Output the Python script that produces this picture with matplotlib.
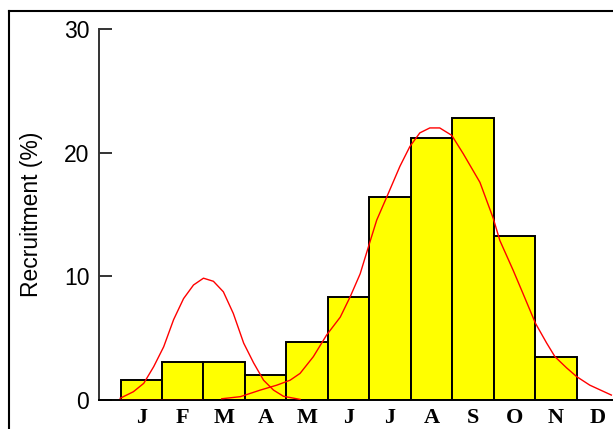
import numpy as np
import matplotlib.pyplot as plt
from matplotlib.lines import Line2D

# Monthly recruitment (%)
months = ['J', 'F', 'M', 'A', 'M', 'J', 'J', 'A', 'S', 'O', 'N', 'D']
recruit = [1.6, 3.1, 3.1, 2.0, 4.7, 8.3, 16.4, 21.2, 22.8, 13.3, 3.5, 0.0]

# Fitted normal components (x in month units, 0 = January)
fit1_x = [-0.51, -0.19, 0.06, 0.30, 0.54, 0.78, 1.02, 1.26, 1.50, 1.74,
          1.98, 2.22, 2.47, 2.71, 2.95, 3.19, 3.43, 3.83]
fit1_y = [0.14, 0.67, 1.35, 2.7, 4.3, 6.5, 8.2, 9.3, 9.85, 9.6,
          8.75, 7.0, 4.6, 3.0, 1.6, 0.8, 0.3, 0.05]

fit2_x = [1.94, 2.39, 2.87, 3.27, 3.59, 3.83, 4.15, 4.47, 4.80, 5.04,
          5.28, 5.49, 5.68, 5.92, 6.24, 6.48, 6.72, 6.96, 7.20, 7.49,
          7.77, 8.17, 8.49, 8.65, 8.97, 9.21, 9.51, 9.78, 9.98, 10.26,
          10.50, 10.82, 11.34]
fit2_y = [0.1, 0.27, 0.8, 1.2, 1.6, 2.15, 3.5, 5.25, 6.7, 8.35,
          10.2, 12.5, 14.55, 16.4, 18.9, 20.5, 21.6, 22.0, 22.0, 21.4,
          19.9, 17.6, 14.7, 12.9, 10.5, 8.6, 6.2, 4.6, 3.5, 2.6,
          1.9, 1.2, 0.4]

fig = plt.figure(figsize=(6.13, 4.29), dpi=100)
ax = fig.add_axes([99/613, 29/429, 1 - 99/613, 371/429])

x = np.arange(len(months))
ax.bar(x, recruit, width=1.0, color='#ffff00', edgecolor='black', linewidth=1.4, zorder=2)

# red baseline + fitted curves
ax.plot([-0.51, 1.47], [0, 0], color='red', lw=1.0, zorder=3)
ax.plot(fit1_x, fit1_y, color='red', lw=1.0, zorder=3)
ax.plot(fit2_x, fit2_y, color='red', lw=1.0, zorder=3)

ax.set_xlim(-1.02, 11.38)
ax.set_ylim(0, 30)

for s in ['top', 'right']:
    ax.spines[s].set_visible(False)
ax.spines['left'].set_color('#333333')
ax.spines['left'].set_linewidth(1.4)
ax.spines['bottom'].set_color('black')
ax.spines['bottom'].set_linewidth(1.4)

ax.set_yticks([0, 10, 20, 30])
ax.tick_params(axis='y', direction='in', length=9, width=1.4, color='#333333',
               pad=7, labelsize=16.5)
for lab in ax.get_yticklabels():
    lab.set_fontfamily('Liberation Sans')

ax.set_xticks(x)
ax.set_xticklabels(months, fontfamily='Liberation Serif', fontsize=16, fontweight='bold')
ax.tick_params(axis='x', length=0, pad=6)

ax.set_ylabel('Recruitment (%)', fontfamily='Liberation Sans', fontsize=16.5)
ax.yaxis.set_label_coords(-0.109, 0.5)

# outer frame
fig.add_artist(Line2D([9/613, 9/613], [0, 1 - 11/429], transform=fig.transFigure,
                      color='black', lw=1.5))
fig.add_artist(Line2D([9/613, 1], [1 - 11/429, 1 - 11/429], transform=fig.transFigure,
                      color='black', lw=1.5))

fig.savefig('out.png', dpi=100)
